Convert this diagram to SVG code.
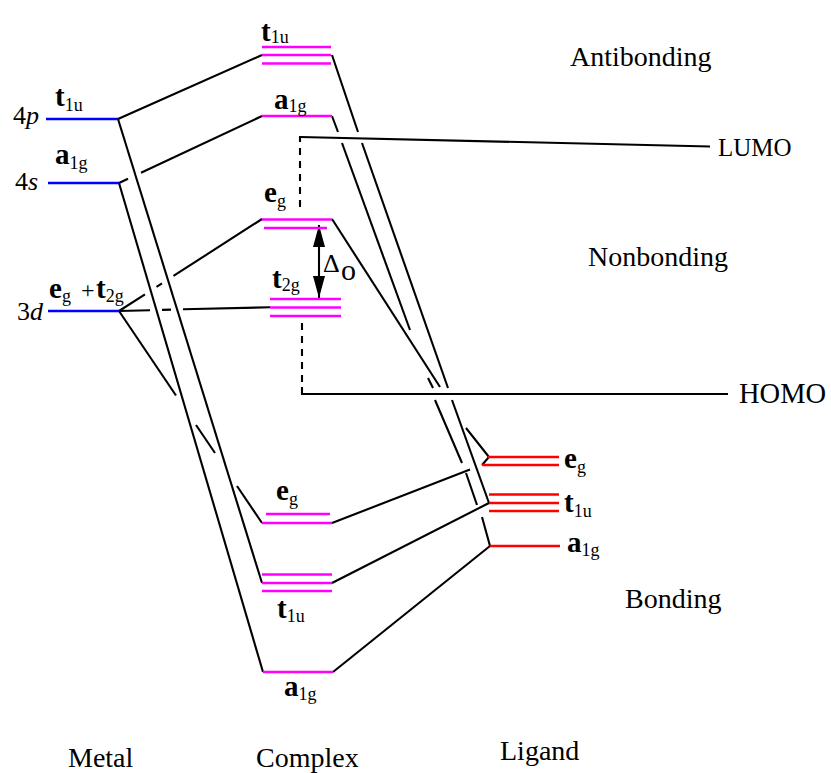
<svg xmlns="http://www.w3.org/2000/svg" width="831" height="773" viewBox="0 0 831 773">
<defs>
<style>
text{font-family:"Liberation Serif","Times New Roman",serif;fill:#000}
.big{font-size:28px}
.orb{font-size:26px}
.b{font-weight:bold;font-size:29px}
.s{font-size:18px;font-weight:normal}
.m{stroke:#ff00ff;stroke-width:2.6;fill:none}
.bl{stroke:#0000ff;stroke-width:2.6;fill:none}
.r{stroke:#ff0000;stroke-width:2.6;fill:none}
.c{stroke:#000;stroke-width:2.1;fill:none;stroke-linecap:butt}
.d{stroke:#000;stroke-width:2.1;fill:none;stroke-dasharray:7 6}
</style>
<marker id="ah" viewBox="0 0 22 12" refX="22" refY="6" markerWidth="22" markerHeight="12" markerUnits="userSpaceOnUse" orient="auto-start-reverse">
<path d="M0,0 L22,6 L0,12 z" fill="#000"/>
</marker>
</defs>
<rect width="831" height="773" fill="#fff"/>

<g id="connectors">
<!-- metal side -->
<line class="c" x1="118" y1="119" x2="262" y2="55"/>
<line class="c" x1="118" y1="119" x2="262" y2="583"/>
<polyline class="c" points="119,183 128,178.8"/>
<polyline class="c" points="141,172.7 262,116"/>
<line class="c" x1="119" y1="183" x2="263" y2="672"/>
<polyline class="c" points="119,311 145,294.3"/>
<polyline class="c" points="156.5,286.9 162,283.3"/>
<polyline class="c" points="173.5,275.9 262,219"/>
<polyline class="c" points="119,311 150,310.2"/>
<polyline class="c" points="162,309.9 171,309.6"/>
<polyline class="c" points="183,309.3 270,307.3"/>
<polyline class="c" points="119,311 176,395.5"/>
<polyline class="c" points="196,425 215,453"/>
<polyline class="c" points="237,486 262,523"/>
<!-- ligand side -->
<polyline class="c" points="332,55 358,132"/>
<polyline class="c" points="362,143 448,388"/>
<polyline class="c" points="452,400 489,503"/>
<polyline class="c" points="332,116 338,132"/>
<polyline class="c" points="342,143 410,330"/>
<polyline class="c" points="428,378 433,388"/>
<polyline class="c" points="435,400 462,463"/>
<polyline class="c" points="466,473 477,505"/>
<polyline class="c" points="482,517 490,546"/>
<polyline class="c" points="332,219 440,387"/>
<polyline class="c" points="466,428 489,457 482,465"/>
<polyline class="c" points="332,523 470,469.6"/>
<line class="c" x1="332" y1="583" x2="489" y2="503"/>
<line class="c" x1="333" y1="672" x2="490" y2="546"/>
<!-- LUMO / HOMO -->
<line class="c" x1="300" y1="137" x2="710" y2="146.5"/>
<line class="c" x1="300" y1="136" x2="300" y2="142"/>
<line class="d" x1="300" y1="148" x2="300" y2="209"/>
<line class="d" x1="302" y1="323" x2="302" y2="388"/>
<polyline class="c" points="302,387 302,394 728,394"/>
<!-- Delta o -->
<line class="c" x1="319" y1="225" x2="319" y2="298" marker-start="url(#ah)" marker-end="url(#ah)"/>
</g>

<g id="metal-4p">
<line class="bl" x1="46" y1="119" x2="118" y2="119"/>
<text class="orb" x="13" y="124">4<tspan font-style="italic">p</tspan></text>
<text class="b" x="55" y="106">t<tspan class="s" dy="5">1u</tspan></text>
</g>
<g id="metal-4s">
<line class="bl" x1="48" y1="183" x2="119" y2="183"/>
<text class="orb" x="15" y="190">4<tspan font-style="italic">s</tspan></text>
<text class="b" x="55" y="164">a<tspan class="s" dy="5">1g</tspan></text>
</g>
<g id="metal-3d">
<line class="bl" x1="48" y1="311" x2="119" y2="311"/>
<text class="orb" x="17" y="320">3<tspan font-style="italic">d</tspan></text>
<text class="b" x="49" y="298">e<tspan class="s" dy="4">g</tspan><tspan x="81" dy="-4" font-weight="normal" font-size="24">+</tspan><tspan x="96">t</tspan><tspan class="s" dy="4">2g</tspan></text>
</g>

<g id="complex-t1u-top">
<line class="m" x1="262" y1="47" x2="331" y2="47"/>
<line class="m" x1="262" y1="55" x2="331" y2="55"/>
<line class="m" x1="262" y1="63.5" x2="331" y2="63.5"/>
<text class="b" x="261" y="41">t<tspan class="s" dy="2">1u</tspan></text>
</g>
<g id="complex-a1g-top">
<line class="m" x1="262" y1="116" x2="332" y2="116"/>
<text class="b" x="274" y="109">a<tspan class="s" dy="3">1g</tspan></text>
</g>
<g id="complex-eg-top">
<line class="m" x1="262" y1="219.5" x2="332" y2="219.5"/>
<line class="m" x1="264" y1="228" x2="327" y2="228"/>
<text class="b" x="264" y="202">e<tspan class="s" dy="5">g</tspan></text>
</g>
<g id="complex-t2g">
<line class="m" x1="270" y1="299" x2="341" y2="299"/>
<line class="m" x1="270" y1="307.5" x2="341" y2="307.5"/>
<line class="m" x1="270" y1="316" x2="341" y2="316"/>
<text class="b" x="272" y="288">t<tspan class="s" dy="3">2g</tspan></text>
</g>
<g id="delta-o">
<text x="323" y="272" style="font-size:26px">Δ</text>
<text x="341" y="280" style="font-size:30px">o</text>
</g>
<g id="complex-eg-bottom">
<line class="m" x1="266" y1="514" x2="330" y2="514"/>
<line class="m" x1="262" y1="523" x2="332" y2="523"/>
<text class="b" x="276" y="500">e<tspan class="s" dy="5">g</tspan></text>
</g>
<g id="complex-t1u-bottom">
<line class="m" x1="262" y1="574.5" x2="332" y2="574.5"/>
<line class="m" x1="262" y1="583" x2="332" y2="583"/>
<line class="m" x1="262" y1="591" x2="332" y2="591"/>
<text class="b" x="277" y="618">t<tspan class="s" dy="4">1u</tspan></text>
</g>
<g id="complex-a1g-bottom">
<line class="m" x1="263" y1="672" x2="333" y2="672"/>
<text class="b" x="284" y="696">a<tspan class="s" dy="4">1g</tspan></text>
</g>

<g id="ligand-eg">
<line class="r" x1="488" y1="457" x2="559" y2="457"/>
<line class="r" x1="482" y1="465" x2="559" y2="465"/>
<text class="b" x="564" y="468">e<tspan class="s" dy="5">g</tspan></text>
</g>
<g id="ligand-t1u">
<line class="r" x1="489" y1="494.5" x2="559" y2="494.5"/>
<line class="r" x1="489" y1="503" x2="559" y2="503"/>
<line class="r" x1="489" y1="511" x2="559" y2="511"/>
<text class="b" x="564" y="512">t<tspan class="s" dy="5">1u</tspan></text>
</g>
<g id="ligand-a1g">
<line class="r" x1="490" y1="546" x2="560" y2="546"/>
<text class="b" x="567" y="552">a<tspan class="s" dy="4">1g</tspan></text>
</g>

<g id="labels">
<text class="big" x="570" y="66">Antibonding</text>
<text class="big" x="588" y="266">Nonbonding</text>
<text class="big" x="625" y="608">Bonding</text>
<text class="big" x="718" y="156" style="font-size:25px">LUMO</text>
<text class="big" x="739" y="403" style="font-size:28.5px">HOMO</text>
<text class="big" x="68" y="767">Metal</text>
<text class="big" x="256" y="767">Complex</text>
<text class="big" x="500" y="760">Ligand</text>
</g>
</svg>
